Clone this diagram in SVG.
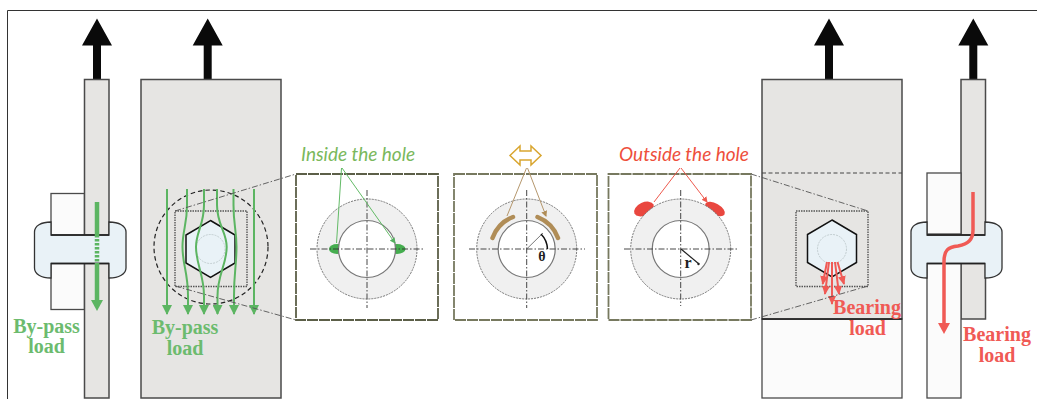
<svg xmlns="http://www.w3.org/2000/svg" width="1037" height="399" viewBox="0 0 1037 399">
<style>
text{font-family:"Liberation Serif",serif;font-weight:bold;font-size:20px;text-anchor:middle}
.g{fill:#6cbb6e}.r{fill:#f05a55}
.it{font-family:Lato,"Open Sans",sans-serif;font-weight:400;font-style:italic;font-size:19px}
.plate{fill:#e6e5e3;stroke:#4a4a4a;stroke-width:1.5}
.wht{fill:#fbfbfb;stroke:#4a4a4a;stroke-width:1.3}
.bolt{fill:#e9f2f7;stroke:#333;stroke-width:1.3}
.hex{fill:#e9f2f7;stroke:#111;stroke-width:1.5}
.hole{fill:none;stroke:#b9c4c6;stroke-width:.8;stroke-dasharray:2 1}
.sq{fill:none;stroke:#555;stroke-width:1.4;stroke-dasharray:1.5 1}
.panel{fill:#fff;stroke:#5c5f48;stroke-width:1.8;stroke-dasharray:11 1}
.ring{fill:#f0f0f0;stroke:#777;stroke-width:1;stroke-dasharray:2 1}
.inner{fill:#fff;stroke:#777;stroke-width:1.2}
.cl{fill:none;stroke:#333;stroke-width:.9;stroke-dasharray:6 2 1.5 2}
.zoomline{fill:none;stroke:#555;stroke-width:.9;stroke-dasharray:6 2 1.5 2}
</style>
<defs>
<marker id="ga" markerUnits="userSpaceOnUse" markerWidth="12" markerHeight="10" refX="9" refY="5" orient="auto"><path d="M0 0L10 5L0 10Z" fill="#5cb562"/></marker>
<marker id="ra" markerUnits="userSpaceOnUse" markerWidth="10" markerHeight="8" refX="8" refY="4" orient="auto"><path d="M0 0L9 4L0 8Z" fill="#f05a55"/></marker>
<marker id="gs" markerUnits="userSpaceOnUse" markerWidth="6" markerHeight="6" refX="5" refY="3" orient="auto"><path d="M0 0L6 3L0 6Z" fill="#55b060"/></marker>
<marker id="bs" markerUnits="userSpaceOnUse" markerWidth="6" markerHeight="6" refX="5" refY="3" orient="auto"><path d="M0 0L6 3L0 6Z" fill="#b08d57"/></marker>
<marker id="rs" markerUnits="userSpaceOnUse" markerWidth="6" markerHeight="6" refX="5" refY="3" orient="auto"><path d="M0 0L6 3L0 6Z" fill="#ee5a4e"/></marker>
<path id="up" d="M-4 61V27H-15L0 0L15 27H4V61Z" fill="#0a0a0a"/>
<path id="hexa" d="M0 -28.5L24.5 -14V14L0 28.5L-24.5 14V-14Z" class="hex"/>
</defs>
<path id="frame" d="M7.5 399V10.5H1037" fill="none" stroke="#333" stroke-width="1"/>

<g id="arrows-up">
<use href="#up" x="97" y="18.500"/><use href="#up" x="207.700" y="18.500"/><use href="#up" x="829" y="18.500"/><use href="#up" x="973.300" y="18.500"/>
</g>

<g id="side-left">
<rect class="wht" x="51" y="193.500" width="33.500" height="116"/>
<rect class="plate" x="84.500" y="79.500" width="24.500" height="318.500"/>
<path class="bolt" d="M51 222C41 222 34.500 226 34.500 232V268C34.500 274 41 278 51 278V263.500H109V278C119 278 126 274 126 268V232C126 226 119 222 109 222V235H51Z"/>
<path d="M51 235H109M51 263.500H109" stroke="#222" stroke-width="1.500"/>
<path d="M97 202V235" fill="none" stroke="#5cb562" stroke-width="4.500"/>
<path d="M97 235V263" fill="none" stroke="#5cb562" stroke-width="4.500" stroke-dasharray="2.500 1.500"/>
<path d="M97 263V300" fill="none" stroke="#5cb562" stroke-width="4.500"/>
<path d="M91 300H103L97 311Z" fill="#5cb562"/>
</g>

<g id="plate-bypass">
<rect class="plate" x="141" y="79.500" width="140" height="318.500"/>
<circle cx="211" cy="247" r="57" fill="none" stroke="#222" stroke-width="1.200" stroke-dasharray="4.500 3"/>
<rect class="sq" x="175" y="211" width="72" height="75.500"/>
<use href="#hexa" x="210.500" y="249"/>
<circle class="hole" cx="210.500" cy="249" r="14.500"/>
<g fill="none" stroke="#5cb562" stroke-width="2">
<path marker-end="url(#ga)" d="M167 189V314"/>
<path marker-end="url(#ga)" d="M187 189V205C187 225 182.500 230 182.500 247C182.500 265 188 272 188 296V314"/>
<path marker-end="url(#ga)" d="M204 189V205C204 225 196 232 196 247C196 264 204 275 204 296V314"/>
<path marker-end="url(#ga)" d="M217 189V205C217 225 226.700 232 226.700 247C226.700 264 217.500 275 217.500 296V314"/>
<path marker-end="url(#ga)" d="M233.500 189V205C233.500 225 236.500 230 236.500 247C236.500 265 234 272 234 296V314"/>
<path marker-end="url(#ga)" d="M254 189V314"/>
</g>
<text x="185" y="334" class="g">By-pass</text><text x="185" y="355" class="g">load</text>
</g>
<g id="label-bypass-left"><text x="46.500" y="333" class="g">By-pass</text><text x="46.500" y="353" class="g">load</text></g>

<g id="panel-inside">
<rect class="panel" x="296" y="174" width="142" height="146"/>
<circle class="ring" cx="367" cy="249" r="50"/>
<ellipse cx="337" cy="249" rx="8" ry="5" fill="#45ad4f"/><ellipse cx="397" cy="249" rx="8.500" ry="5" fill="#45ad4f"/>
<circle cx="367" cy="249" r="28.500" class="inner"/>
<path class="cl" d="M310 249H425M367 190V308"/>
<path d="M341.500 168L336.500 243M342 168L395 243" fill="none" stroke="#63bb67" stroke-width="1" marker-end="url(#gs)"/>
<text x="358" y="161" class="it" style="fill:#7ab85c">Inside the hole</text>
</g>

<g id="panel-center">
<rect class="panel" x="454" y="174" width="143" height="146" style="stroke:#77795f"/>
<circle class="ring" cx="526.700" cy="249" r="50"/><circle class="inner" cx="526.700" cy="249" r="28.500"/>
<path d="M492.500 238A36 36 0 0 1 513 217M558 238A36 36 0 0 0 537.500 217" fill="none" stroke="#b08d57" stroke-width="4.500" stroke-linecap="round"/>
<path class="cl" d="M469 249H585M526.700 190V308"/>
<path d="M526.700 249L543 233" fill="none" stroke="#555" stroke-width=".8"/>
<path d="M541 234A23 23 0 0 1 547.500 249" fill="none" stroke="#111" stroke-width="1.500"/>
<path d="M526.500 168L507 216M527.500 168L546 216" fill="none" stroke="#b5976d" stroke-width="1" marker-end="url(#bs)"/>
<path d="M510 155.500L520 146V151H531V146L541 155.500L531 165V160H520V165Z" fill="#fff" stroke="#d9a630" stroke-width="1.500"/>
<text x="542" y="261" style="font-size:14px;fill:#222">θ</text>
</g>

<g id="panel-outside">
<rect class="panel" x="608.500" y="174" width="142.500" height="146" style="stroke:#77795f"/>
<ellipse cx="644" cy="209" rx="10.500" ry="6.500" transform="rotate(-25 644 209)" fill="#e9473f"/>
<ellipse cx="715" cy="209" rx="11" ry="5.500" transform="rotate(30 715 209)" fill="#e9473f"/>
<circle class="ring" cx="680.700" cy="249" r="50"/><circle class="inner" cx="680.700" cy="249" r="28.500"/>
<path class="cl" d="M624 249H739M680.700 190V306"/>
<path d="M681 249L699 264" fill="none" stroke="#222" stroke-width="1.200"/>
<circle cx="698.500" cy="264" r="1.200" fill="#222"/>
<text x="688" y="268" style="font-size:16px;fill:#222">r</text>
<path d="M680 168L654 202M681 168L707 202" fill="none" stroke="#ee5a4e" stroke-width="1" marker-end="url(#rs)"/>
<text x="684" y="161" class="it" style="fill:#ee4f3c">Outside the hole</text>
</g>

<g id="plate-bearing">
<rect class="wht" x="762" y="319" width="140" height="79"/>
<rect class="plate" x="762" y="79.500" width="140" height="239.500"/>
<path d="M762 173H902" fill="none" stroke="#444" stroke-width="1" stroke-dasharray="4 2.500"/>
<path d="M762 319H902" stroke="#222" stroke-width="1.500"/>
<rect class="sq" x="796" y="211" width="72" height="75.500"/>
<use href="#hexa" x="832" y="248.500"/>
<circle class="hole" cx="832" cy="249" r="14.500"/>
<g fill="none" stroke="#f05a55" stroke-width="2">
<path marker-end="url(#ra)" d="M827 262L822.700 284"/>
<path marker-end="url(#ra)" d="M829 262L825 294"/>
<path marker-end="url(#ra)" d="M832 262V304"/>
<path marker-end="url(#ra)" d="M835 262L839 294"/>
<path marker-end="url(#ra)" d="M837.500 262L844 284"/>
</g>
<text x="867" y="314" class="r">Bearing</text><text x="867.500" y="335" class="r">load</text>
</g>

<g id="side-right">
<rect class="plate" x="961" y="79.500" width="24.500" height="239.500"/>
<rect class="wht" x="927" y="173" width="34" height="61"/>
<rect class="wht" x="927" y="263" width="34" height="135"/>
<path class="bolt" d="M927 222C917 222 911 226 911 232V268C911 274 917 278 927 278V263.500H985V278C995 278 1002 274 1002 268V232C1002 226 995 222 985 222V235H927Z"/>
<path d="M927 235H985M927 263.500H985" stroke="#222" stroke-width="1.500"/>
<path d="M973 192V230C973 240 968 244 958 246C948 247 944 250 944 262V325" fill="none" stroke="#f05a55" stroke-width="3.500"/>
<path d="M938 323H950L944 334Z" fill="#f05a55"/>
<text x="997" y="341" class="r">Bearing</text><text x="997" y="362" class="r">load</text>
</g>

<g id="zoom-lines">
<path class="zoomline" d="M175 211L296 174M175 286L296 320M751 174L868 211M751 320L868 286"/>
</g>
</svg>
